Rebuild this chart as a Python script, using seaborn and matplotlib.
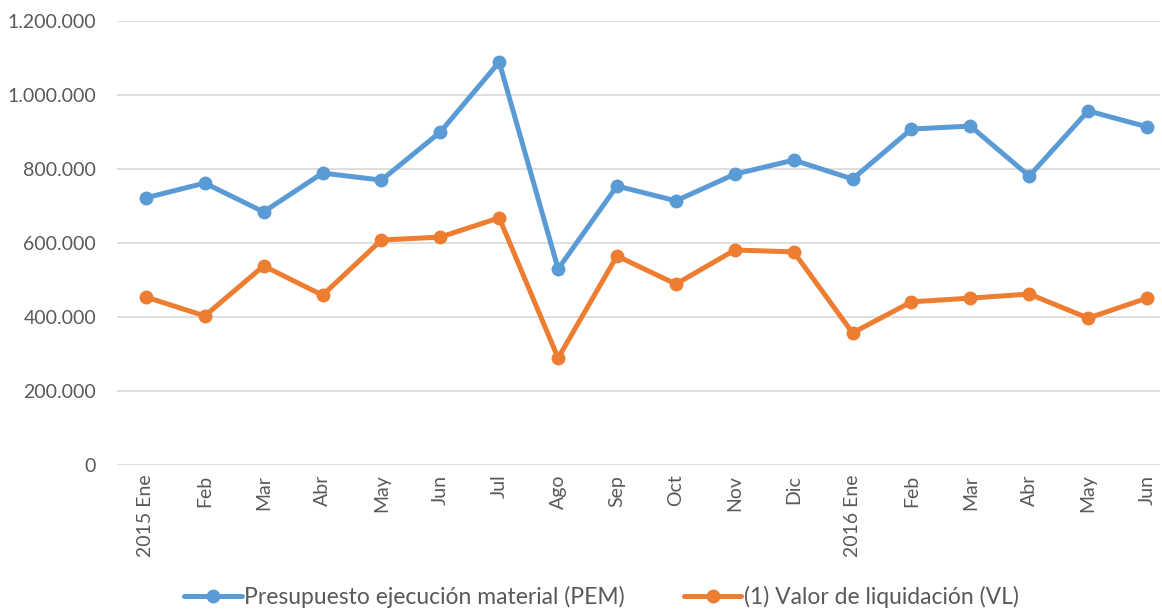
import matplotlib
matplotlib.use("Agg")
import matplotlib.pyplot as plt
import matplotlib.ticker as mticker
import pandas as pd
import seaborn as sns

meses = ["2015 Ene", "Feb", "Mar", "Abr", "May", "Jun", "Jul", "Ago", "Sep",
         "Oct", "Nov", "Dic", "2016 Ene", "Feb", "Mar", "Abr", "May", "Jun"]
pem = [722000, 762000, 684000, 789000, 770000, 900000, 1089000, 530000, 754000,
       714000, 786000, 824000, 773000, 908000, 916000, 781000, 957000, 914000]
vl = [454000, 403000, 538000, 459000, 608000, 616000, 668000, 289000, 565000,
      489000, 581000, 576000, 357000, 441000, 451000, 462000, 397000, 451000]

serie_pem = "Presupuesto ejecución material (PEM)"
serie_vl = "(1) Valor de liquidación (VL)"

df = pd.DataFrame({"pos": list(range(len(meses))) * 2,
                   "valor": pem + vl,
                   "serie": [serie_pem] * len(pem) + [serie_vl] * len(vl)})

sns.set_style("white")
plt.rcParams["font.family"] = ["Lato", "DejaVu Sans"]

fig = plt.figure(figsize=(11.62, 6.10), dpi=100)
ax = fig.add_axes([117 / 1162, 1 - 465 / 610, (1160 - 117) / 1162, (465 - 21) / 610])

sns.lineplot(data=df, x="pos", y="valor", hue="serie",
             palette=["#5B9BD5", "#ED7D31"], linewidth=3.6, marker="o",
             markersize=10, markeredgewidth=0, ax=ax, legend=True)

ax.set_xlim(-0.49, 17.22)
ax.set_ylim(0, 1200000)
ax.set_xticks(range(len(meses)))
ax.set_xticklabels(meses, rotation=90, fontsize=14, color="#595959")
ax.yaxis.set_major_locator(mticker.MultipleLocator(200000))
ax.yaxis.set_major_formatter(mticker.FuncFormatter(lambda v, p: f"{int(v):,}".replace(",", ".")))
ax.tick_params(axis="y", labelsize=14, labelcolor="#595959", length=0, pad=15)
ax.tick_params(axis="x", length=0, pad=7)
ax.grid(axis="y", color="#D9D9D9", linewidth=1.2)
ax.set_axisbelow(True)
for s in ax.spines.values():
    s.set_visible(False)
ax.set_xlabel("")
ax.set_ylabel("")

ax.legend(loc="center", bbox_to_anchor=(0.4645, -0.297), ncol=2,
          frameon=False, fontsize=16.5, handlelength=2.5, handletextpad=0.1,
          columnspacing=2.6, labelcolor="#595959")

fig.savefig("out.png", dpi=100)
